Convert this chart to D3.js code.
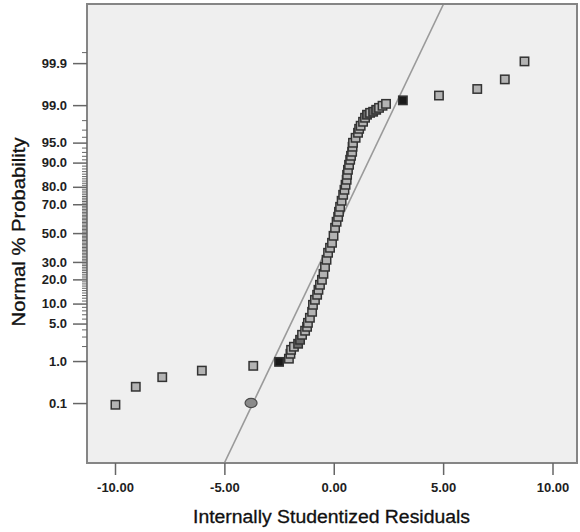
<!DOCTYPE html>
<html>
<head>
<meta charset="utf-8">
<script src="https://cdn.jsdelivr.net/npm/d3@7/dist/d3.min.js"></script>
<style>
  html, body { margin: 0; padding: 0; background: #ffffff; }
  svg { display: block; }
  text { font-family: "Liberation Sans", Arial, sans-serif; }
</style>
</head>
<body>
<svg id="chart" width="580" height="532"></svg>
<script>
// ---- Data (sorted residuals and their normal % probability) ----
const residuals = [
  -9.98, -9.05, -7.84, -6.03, -3.68, -2.50,
  -2.05, -1.98, -1.95, -1.82, -1.63, -1.54, -1.45, -1.31, -1.22, -1.18,
  -1.09, -0.99, -0.95, -0.86, -0.76, -0.70, -0.63, -0.54, -0.47, -0.40,
  -0.33, -0.26, -0.17, -0.08, -0.01, 0.06, 0.13, 0.20, 0.24, 0.29,
  0.36, 0.43, 0.49, 0.54, 0.59, 0.61, 0.65, 0.70, 0.75, 0.79,
  0.84, 0.86, 0.88, 1.00, 1.11, 1.16, 1.23, 1.34, 1.43, 1.52,
  1.66, 1.80, 1.94, 2.07, 2.23, 2.39,
  3.16, 4.81, 6.56, 7.82, 8.72
];
const percents = [
  0.09, 0.26, 0.44, 0.62, 0.79, 0.96,
  1.12, 1.41, 1.69, 1.94, 2.21, 2.62, 3.22, 3.79, 4.42, 5.14,
  6.18, 7.62, 9.61, 11.26, 13.10, 15.13, 17.36, 19.79, 22.96, 27.00,
  31.37, 36.02, 39.47, 43.00, 48.04, 53.84, 58.14, 61.65, 65.07, 68.37,
  72.15, 75.69, 78.44, 81.01, 83.38, 85.54, 87.51, 89.29, 90.87, 92.00,
  93.03, 94.17, 94.97, 95.84, 96.59, 97.10, 97.45, 97.85, 98.20, 98.43,
  98.56, 98.63, 98.75, 98.86, 98.97, 99.06,
  99.21, 99.38, 99.56, 99.74, 99.91
];
// shade group of each point: L = light, D = dark grey, K = black
const shades = [
  "L","L","L","L","L","K",
  "L","L","L","L","D","D","L","L","L","L",
  "L","L","L","L","L","L","L","L","L","L",
  "L","L","L","L","L","L","L","L","L","L",
  "L","L","L","L","L","L","L","L","L","L",
  "L","L","L","L","L","L","L","L","L","D",
  "L","D","D","L","L","L",
  "K","L","L","L","L"
];
// extra highlighted (circle) point
const circleResid = [-3.78];
const circlePct = [0.10];

// fit line endpoints (residual at bottom and top of the plot)
const fitResid = [-5.0, 5.02];
const fitZ = [-4.18, 4.165];

// axis ticks
const xTicks = [-10, -5, 0, 5, 10];
const yMajorPct = [0.1, 1, 5, 10, 20, 30, 50, 70, 80, 90, 95, 99, 99.9];
const yMajorLabels = ["0.1", "1.0", "5.0", "10.0", "20.0", "30.0", "50.0", "70.0", "80.0", "90.0", "95.0", "99.0", "99.9"];
const yMinorPct = [2,3,4,6,7,8,9,11,12,13,14,15,16,17,18,19,21,22,23,24,25,26,27,28,29,
  31,32,33,34,35,36,37,38,39,40,41,42,43,44,45,46,47,48,49,51,52,53,54,55,56,57,58,59,60,
  61,62,63,64,65,66,67,68,69,71,72,73,74,75,76,77,78,79,81,82,83,84,85,86,87,88,89,
  91,92,93,94,96,97,98,99.95];

const xTitle = "Internally Studentized Residuals";
const yTitle = "Normal % Probability";

// ---- inverse normal CDF (probit) for the probability scale ----
function probit(p) {
  const a = [-3.969683028665376e+01, 2.209460984245205e+02, -2.759285104469687e+02, 1.383577518672690e+02, -3.066479806614716e+01, 2.506628277459239e+00];
  const b = [-5.447609879822406e+01, 1.615858368580409e+02, -1.556989798598866e+02, 6.680131188771972e+01, -1.328068155288572e+01];
  const c = [-7.784894002430293e-03, -3.223964580411365e-01, -2.400758277161838e+00, -2.549732539343734e+00, 4.374664141464968e+00, 2.938163982698783e+00];
  const d = [7.784695709041462e-03, 3.224671290700398e-01, 2.445134137142996e+00, 3.754408661907416e+00];
  const pl = 0.02425, ph = 1 - pl;
  let q, r;
  if (p < pl) {
    q = Math.sqrt(-2 * Math.log(p));
    return (((((c[0]*q+c[1])*q+c[2])*q+c[3])*q+c[4])*q+c[5]) / ((((d[0]*q+d[1])*q+d[2])*q+d[3])*q+1);
  } else if (p <= ph) {
    q = p - 0.5; r = q*q;
    return (((((a[0]*r+a[1])*r+a[2])*r+a[3])*r+a[4])*r+a[5])*q / (((((b[0]*r+b[1])*r+b[2])*r+b[3])*r+b[4])*r+1);
  } else {
    q = Math.sqrt(-2 * Math.log(1 - p));
    return -(((((c[0]*q+c[1])*q+c[2])*q+c[3])*q+c[4])*q+c[5]) / ((((d[0]*q+d[1])*q+d[2])*q+d[3])*q+1);
  }
}
const zOf = pct => probit(pct / 100);

// ---- layout ----
const svg = d3.select("#chart");
const L = 87, R = 577, T = 4, B = 463;

const x = d3.scaleLinear().domain([-11.28, 11.12]).range([L, R]);
const y = d3.scaleLinear().domain([-4.18, 4.165]).range([B, T]);

// plot background
svg.append("rect")
  .attr("x", L).attr("y", T).attr("width", R - L).attr("height", B - T)
  .attr("fill", "#efefef");

svg.append("clipPath").attr("id", "clip")
  .append("rect").attr("x", L).attr("y", T).attr("width", R - L).attr("height", B - T);

// fit line
const lineGen = d3.line().x(d => x(d[0])).y(d => y(d[1]));
svg.append("path")
  .attr("clip-path", "url(#clip)")
  .attr("d", lineGen(fitResid.map((r, i) => [r, fitZ[i]])))
  .attr("stroke", "#9a9a9a").attr("stroke-width", 1.6).attr("fill", "none");

// points
const fills = { L: "#b3b3b3", D: "#6a6a6a", K: "#1a1a1a" };
const pts = residuals.map((r, i) => ({ r, p: percents[i], s: shades[i] }));
const sz = 8.4;
svg.append("g").selectAll("rect").data(pts).join("rect")
  .attr("x", d => x(d.r) - sz / 2)
  .attr("y", d => y(zOf(d.p)) - sz / 2)
  .attr("width", sz).attr("height", sz)
  .attr("fill", d => fills[d.s])
  .attr("stroke", "#333").attr("stroke-width", 1.5);

// circle point
svg.append("g").selectAll("ellipse").data(circleResid.map((r, i) => ({ r, p: circlePct[i] }))).join("ellipse")
  .attr("cx", d => x(d.r)).attr("cy", d => y(zOf(d.p)))
  .attr("rx", 6).attr("ry", 4.6)
  .attr("fill", "#8a8a8a").attr("stroke", "#4a4a4a").attr("stroke-width", 1.2);

// plot frame
svg.append("rect")
  .attr("x", L).attr("y", T).attr("width", R - L).attr("height", B - T)
  .attr("fill", "none").attr("stroke", "#858585").attr("stroke-width", 2);

// x axis
const xAxis = d3.axisBottom(x).tickValues(xTicks).tickFormat(d => d.toFixed(2))
  .tickSize(12).tickPadding(8);
const gx = svg.append("g").attr("transform", `translate(0,${B})`).call(xAxis);
gx.select(".domain").remove();
gx.selectAll(".tick line").attr("stroke", "#666").attr("stroke-width", 1.5);
gx.selectAll(".tick text").attr("fill", "#1e1e1e")
  .style("font-size", "13px").style("font-weight", "bold");

// y axis minor ticks
const yMinor = d3.axisLeft(y).tickValues(yMinorPct.map(zOf)).tickFormat("").tickSize(5);
const gyMin = svg.append("g").attr("transform", `translate(${L},0)`).call(yMinor);
gyMin.select(".domain").remove();
gyMin.selectAll(".tick line").attr("stroke", "#666").attr("stroke-width", 1);

// y axis major ticks
const labelByZ = new Map(yMajorPct.map((p, i) => [zOf(p), yMajorLabels[i]]));
const yAxis = d3.axisLeft(y).tickValues(yMajorPct.map(zOf)).tickFormat(z => labelByZ.get(z))
  .tickSize(14).tickPadding(6);
const gy = svg.append("g").attr("transform", `translate(${L},0)`).call(yAxis);
gy.select(".domain").remove();
gy.selectAll(".tick line").attr("stroke", "#666").attr("stroke-width", 1.5);
gy.selectAll(".tick text").attr("fill", "#1e1e1e")
  .style("font-size", "13px").style("font-weight", "bold");

// axis titles
svg.append("text")
  .attr("x", 331.5).attr("y", 523)
  .attr("text-anchor", "middle")
  .attr("textLength", 277).attr("lengthAdjust", "spacingAndGlyphs")
  .attr("fill", "#111")
  .attr("stroke", "#111").attr("stroke-width", 0.3)
  .style("font-size", "18px")
  .text(xTitle);

svg.append("text")
  .attr("transform", "translate(25,232) rotate(-90)")
  .attr("text-anchor", "middle")
  .attr("textLength", 189).attr("lengthAdjust", "spacingAndGlyphs")
  .attr("fill", "#111")
  .attr("stroke", "#111").attr("stroke-width", 0.3)
  .style("font-size", "18px")
  .text(yTitle);
</script>
</body>
</html>
